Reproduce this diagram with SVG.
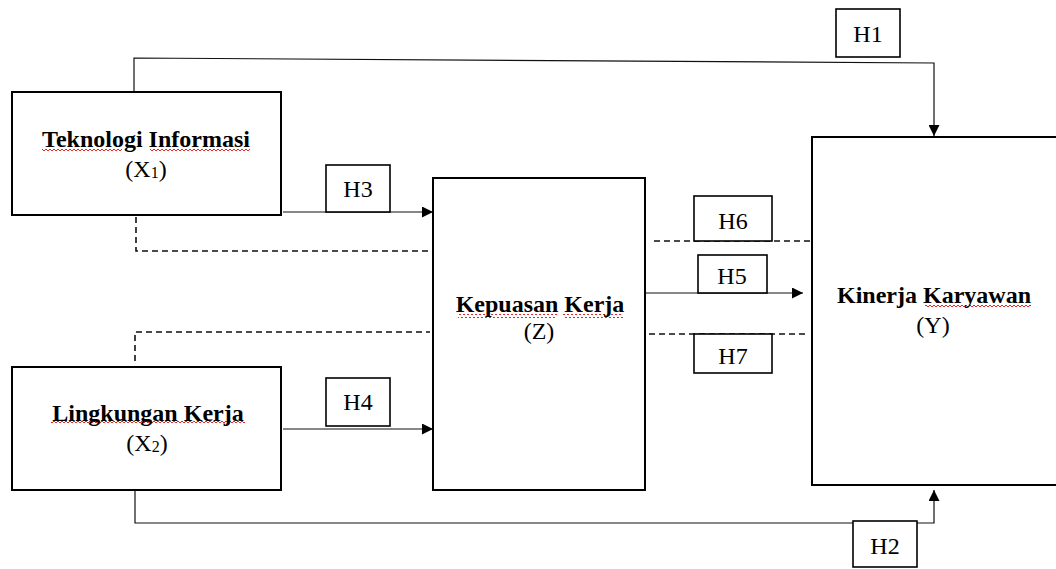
<svg xmlns="http://www.w3.org/2000/svg" width="1056" height="569" viewBox="0 0 1056 569">
<style>
.box{fill:#fff;stroke:#000;stroke-width:2}
.hbox{fill:#fff;stroke:#000;stroke-width:1.6}
.con{fill:none;stroke:#111;stroke-width:1.2}
.dash{fill:none;stroke:#111;stroke-width:1.6;stroke-dasharray:6 4}
.title{font-family:"Liberation Serif","Times New Roman",serif;font-size:24px;font-weight:bold;fill:#000;text-anchor:middle}
.sub{font-family:"Liberation Serif","Times New Roman",serif;font-size:24px;fill:#000;text-anchor:middle}
.hl{font-family:"Liberation Serif","Times New Roman",serif;font-size:24px;fill:#000;text-anchor:middle}
.wave{fill:url(#wave)}
</style>
<defs>
<marker id="arr" viewBox="0 0 10 10" refX="10" refY="5" markerWidth="11" markerHeight="11" markerUnits="userSpaceOnUse" orient="auto">
<path d="M0,0 L10,5 L0,10 Z" fill="#000"/>
</marker>
<pattern id="wave" width="4" height="4" patternUnits="userSpaceOnUse">
<polyline points="0,3 2,1 4,3" fill="none" stroke="#e01010" stroke-width="0.9"/>
</pattern>
</defs>
<rect width="1056" height="569" fill="#fff"/>

<g id="connectors">
<path class="con" d="M134,92 V58 L934,63 V136" marker-end="url(#arr)"/>
<path class="con" d="M135,490 V523 H934 V490" marker-end="url(#arr)"/>
<path class="con" d="M283,212 H433" marker-end="url(#arr)"/>
<path class="con" d="M283,429 H433" marker-end="url(#arr)"/>
<path class="con" d="M645,293 H803" marker-end="url(#arr)"/>
<path class="dash" d="M654,241 H812"/>
<path class="dash" d="M649,334 H807"/>
<path class="dash" d="M136,217 V251 H433"/>
<path class="dash" d="M135,361 V332 H430"/>
</g>

<g id="node-x1">
<rect class="box" x="12" y="92" width="269" height="123"/>
<rect class="wave" x="42" y="148" width="80" height="4"/>
<rect class="wave" x="150" y="148" width="100" height="4"/>
<text class="title" x="146" y="147">Teknologi Informasi</text>
<text class="sub" x="146" y="177">(X<tspan font-size="16" dy="1">1</tspan><tspan dy="-1">)</tspan></text>
</g>

<g id="node-x2">
<rect class="box" x="12" y="367" width="269" height="123"/>
<rect class="wave" x="51" y="421" width="194" height="4"/>
<text class="title" x="148" y="421">Lingkungan Kerja</text>
<text class="sub" x="147" y="451">(X<tspan font-size="16" dy="1">2</tspan><tspan dy="-1">)</tspan></text>
</g>

<g id="node-z">
<rect class="box" x="433" y="178" width="212" height="312"/>
<rect class="wave" x="458" y="314" width="99" height="4"/>
<rect class="wave" x="563" y="314" width="60" height="4"/>
<text class="title" x="540" y="312">Kepuasan Kerja</text>
<text class="sub" x="539" y="339">(Z)</text>
</g>

<g id="node-y">
<rect class="box" x="812" y="137" width="260" height="348"/>
<rect class="wave" x="925" y="305" width="106" height="4"/>
<text class="title" x="934" y="303">Kinerja Karyawan</text>
<text class="sub" x="933" y="333">(Y)</text>
</g>

<g id="label-h1"><rect class="hbox" x="836" y="9" width="64" height="48"/><text class="hl" x="868" y="42">H1</text></g>
<g id="label-h2"><rect class="hbox" x="853" y="521" width="64" height="46"/><text class="hl" x="885" y="554">H2</text></g>
<g id="label-h3"><rect class="hbox" x="326" y="165" width="64" height="47"/><text class="hl" x="358" y="197">H3</text></g>
<g id="label-h4"><rect class="hbox" x="326" y="378" width="64" height="48"/><text class="hl" x="358" y="410">H4</text></g>
<g id="label-h5"><rect class="hbox" x="698" y="255" width="69" height="38"/><text class="hl" x="732" y="284">H5</text></g>
<g id="label-h6"><rect class="hbox" x="694" y="196" width="78" height="45"/><text class="hl" x="733" y="229">H6</text></g>
<g id="label-h7"><rect class="hbox" x="694" y="334" width="78" height="39"/><text class="hl" x="733" y="364">H7</text></g>
</svg>
